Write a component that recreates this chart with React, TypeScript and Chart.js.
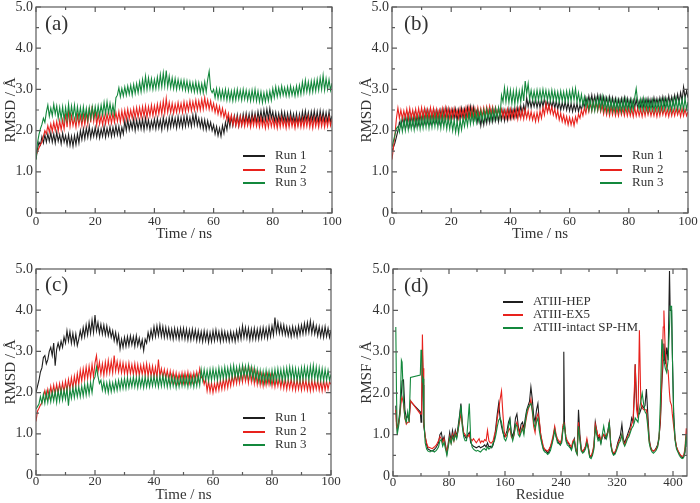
import { useEffect, useRef } from "react";
import { Chart, registerables } from "chart.js";

Chart.register(...registerables);

// ---------- data ----------
const TIME_NS = [
  0, 0.5, 1, 1.5, 2, 2.5, 3, 3.5, 4, 4.5, 5, 5.5, 6, 6.5, 7, 7.5, 8, 8.5, 9, 9.5,
  10, 10.5, 11, 11.5, 12, 12.5, 13, 13.5, 14, 14.5, 15, 15.5, 16, 16.5, 17, 17.5, 18, 18.5, 19, 19.5,
  20, 20.5, 21, 21.5, 22, 22.5, 23, 23.5, 24, 24.5, 25, 25.5, 26, 26.5, 27, 27.5, 28, 28.5, 29, 29.5,
  30, 30.5, 31, 31.5, 32, 32.5, 33, 33.5, 34, 34.5, 35, 35.5, 36, 36.5, 37, 37.5, 38, 38.5, 39, 39.5,
  40, 40.5, 41, 41.5, 42, 42.5, 43, 43.5, 44, 44.5, 45, 45.5, 46, 46.5, 47, 47.5, 48, 48.5, 49, 49.5,
  50, 50.5, 51, 51.5, 52, 52.5, 53, 53.5, 54, 54.5, 55, 55.5, 56, 56.5, 57, 57.5, 58, 58.5, 59, 59.5,
  60, 60.5, 61, 61.5, 62, 62.5, 63, 63.5, 64, 64.5, 65, 65.5, 66, 66.5, 67, 67.5, 68, 68.5, 69, 69.5,
  70, 70.5, 71, 71.5, 72, 72.5, 73, 73.5, 74, 74.5, 75, 75.5, 76, 76.5, 77, 77.5, 78, 78.5, 79, 79.5,
  80, 80.5, 81, 81.5, 82, 82.5, 83, 83.5, 84, 84.5, 85, 85.5, 86, 86.5, 87, 87.5, 88, 88.5, 89, 89.5,
  90, 90.5, 91, 91.5, 92, 92.5, 93, 93.5, 94, 94.5, 95, 95.5, 96, 96.5, 97, 97.5, 98, 98.5, 99, 99.5,
  100,
];

const RUN_LABELS = ["Run 1", "Run 2", "Run 3"];

// Panel (a)
const A_RUN1 = [
  1.30, 1.55, 1.72, 1.65, 1.85, 1.70, 1.90, 1.72, 1.92, 1.74,
  1.95, 1.72, 1.92, 1.70, 1.96, 1.74, 1.90, 1.68, 1.94, 1.72,
  1.88, 1.66, 1.90, 1.64, 1.86, 1.62, 1.88, 1.66, 1.92, 1.70,
  2.00, 1.78, 2.04, 1.80, 2.06, 1.84, 2.10, 1.82, 2.04, 1.86,
  2.08, 1.84, 2.06, 1.82, 2.04, 1.86, 2.10, 1.84, 2.06, 1.88,
  2.10, 1.86, 2.08, 1.88, 2.12, 1.90, 2.10, 1.86, 2.08, 1.92,
  2.24, 2.00, 2.26, 2.02, 2.22, 2.04, 2.28, 2.00, 2.26, 2.04,
  2.26, 2.04, 2.28, 2.02, 2.30, 2.06, 2.26, 2.02, 2.24, 2.06,
  2.28, 2.04, 2.30, 2.06, 2.26, 2.02, 2.32, 2.08, 2.28, 2.04,
  2.32, 2.08, 2.34, 2.10, 2.30, 2.06, 2.34, 2.10, 2.32, 2.08,
  2.34, 2.10, 2.36, 2.12, 2.32, 2.10, 2.38, 2.14, 2.40, 2.12,
  2.30, 2.08, 2.28, 2.04, 2.26, 2.02, 2.24, 2.04, 2.20, 2.00,
  2.14, 1.92, 2.10, 1.88, 2.06, 1.86, 2.12, 1.94, 2.20, 2.02,
  2.32, 2.10, 2.34, 2.12, 2.36, 2.14, 2.38, 2.12, 2.36, 2.14,
  2.40, 2.16, 2.42, 2.18, 2.40, 2.16, 2.44, 2.20, 2.42, 2.18,
  2.46, 2.24, 2.48, 2.22, 2.50, 2.26, 2.52, 2.28, 2.54, 2.30,
  2.46, 2.22, 2.44, 2.20, 2.42, 2.20, 2.46, 2.22, 2.44, 2.18,
  2.42, 2.18, 2.44, 2.20, 2.40, 2.18, 2.42, 2.16, 2.40, 2.18,
  2.46, 2.22, 2.48, 2.24, 2.44, 2.20, 2.46, 2.24, 2.48, 2.22,
  2.46, 2.20, 2.48, 2.24, 2.46, 2.22, 2.44, 2.20, 2.46, 2.22,
  2.36,
];
const A_RUN2 = [
  1.40, 1.50, 1.58, 1.66, 1.72, 1.86, 2.00, 1.92, 2.12, 1.96,
  2.16, 1.98, 2.20, 2.00, 2.22, 1.98, 2.24, 2.02, 2.26, 2.04,
  2.42, 2.08, 2.50, 2.10, 2.36, 2.12, 2.30, 2.08, 2.38, 2.14,
  2.36, 2.12, 2.40, 2.14, 2.44, 2.16, 2.56, 2.20, 2.60, 2.22,
  2.48, 2.14, 2.40, 2.16, 2.36, 2.14, 2.38, 2.16, 2.40, 2.18,
  2.40, 2.18, 2.42, 2.20, 2.44, 2.22, 2.46, 2.20, 2.48, 2.24,
  2.50, 2.26, 2.52, 2.28, 2.50, 2.30, 2.54, 2.30, 2.56, 2.32,
  2.56, 2.32, 2.58, 2.34, 2.60, 2.32, 2.58, 2.36, 2.62, 2.36,
  2.60, 2.38, 2.64, 2.40, 2.66, 2.40, 2.72, 2.42, 2.78, 2.44,
  2.68, 2.44, 2.66, 2.42, 2.64, 2.44, 2.68, 2.46, 2.66, 2.44,
  2.70, 2.46, 2.68, 2.48, 2.72, 2.48, 2.70, 2.50, 2.74, 2.50,
  2.72, 2.50, 2.76, 2.52, 2.80, 2.54, 2.74, 2.52, 2.72, 2.50,
  2.66, 2.44, 2.62, 2.40, 2.58, 2.36, 2.54, 2.32, 2.48, 2.26,
  2.42, 2.20, 2.38, 2.14, 2.34, 2.12, 2.32, 2.10, 2.34, 2.12,
  2.32, 2.10, 2.34, 2.12, 2.30, 2.08, 2.32, 2.12, 2.34, 2.10,
  2.30, 2.08, 2.32, 2.10, 2.28, 2.06, 2.30, 2.08, 2.32, 2.10,
  2.30, 2.08, 2.28, 2.06, 2.30, 2.08, 2.32, 2.10, 2.28, 2.06,
  2.30, 2.08, 2.32, 2.10, 2.28, 2.06, 2.30, 2.10, 2.32, 2.08,
  2.30, 2.08, 2.32, 2.10, 2.34, 2.08, 2.30, 2.06, 2.32, 2.10,
  2.30, 2.08, 2.34, 2.10, 2.32, 2.08, 2.30, 2.10, 2.34, 2.12,
  2.28,
];
const A_RUN3 = [
  1.30, 1.70, 1.90, 2.05, 2.15, 2.30, 2.20, 2.45, 2.62, 2.35,
  2.55, 2.36, 2.64, 2.40, 2.60, 2.30, 2.56, 2.28, 2.58, 2.26,
  2.56, 2.28, 2.64, 2.30, 2.60, 2.32, 2.62, 2.28, 2.58, 2.30,
  2.56, 2.28, 2.58, 2.30, 2.54, 2.26, 2.56, 2.30, 2.58, 2.32,
  2.58, 2.34, 2.60, 2.36, 2.62, 2.38, 2.68, 2.40, 2.70, 2.42,
  2.66, 2.40, 2.62, 2.38, 2.80, 2.86, 3.04, 2.82, 3.02, 2.84,
  3.06, 2.86, 3.08, 2.88, 3.10, 2.86, 3.12, 2.90, 3.14, 2.92,
  3.18, 2.94, 3.24, 2.98, 3.32, 3.00, 3.28, 3.02, 3.26, 3.00,
  3.24, 3.02, 3.30, 3.04, 3.36, 3.06, 3.40, 3.08, 3.46, 3.06,
  3.32, 3.04, 3.28, 3.02, 3.26, 3.00, 3.24, 3.02, 3.22, 3.00,
  3.22, 2.98, 3.20, 2.96, 3.18, 2.96, 3.16, 2.94, 3.18, 2.94,
  3.16, 2.92, 3.14, 2.92, 3.18, 2.94, 3.24, 3.44, 3.00, 2.92,
  3.00, 2.80, 3.02, 2.78, 3.00, 2.76, 2.98, 2.76, 3.00, 2.74,
  2.98, 2.74, 2.96, 2.72, 2.98, 2.74, 3.00, 2.76, 2.98, 2.74,
  3.00, 2.76, 2.98, 2.74, 2.96, 2.72, 2.98, 2.74, 3.00, 2.72,
  2.96, 2.70, 2.94, 2.68, 2.92, 2.70, 2.94, 2.72, 2.96, 2.74,
  3.02, 2.80, 3.06, 2.82, 3.04, 2.84, 3.08, 2.86, 3.04, 2.84,
  3.06, 2.84, 3.08, 2.86, 3.04, 2.84, 3.08, 2.86, 3.10, 2.88,
  3.18, 2.92, 3.22, 2.94, 3.18, 2.92, 3.20, 2.94, 3.22, 2.96,
  3.24, 2.98, 3.28, 3.00, 3.34, 2.98, 3.26, 3.00, 3.24, 2.98,
  3.15,
];

// Panel (b)
const B_RUN1 = [
  1.50, 1.60, 1.70, 1.85, 2.00, 2.20, 2.10, 2.32, 2.12, 2.36,
  2.14, 2.38, 2.12, 2.36, 2.16, 2.40, 2.14, 2.38, 2.16, 2.40,
  2.18, 2.44, 2.20, 2.48, 2.22, 2.46, 2.20, 2.44, 2.22, 2.46,
  2.22, 2.46, 2.20, 2.48, 2.24, 2.50, 2.26, 2.52, 2.24, 2.50,
  2.26, 2.50, 2.28, 2.52, 2.24, 2.50, 2.28, 2.54, 2.30, 2.52,
  2.30, 2.56, 2.32, 2.58, 2.30, 2.56, 2.28, 2.46, 2.20, 2.40,
  2.12, 2.36, 2.14, 2.40, 2.18, 2.44, 2.20, 2.46, 2.22, 2.48,
  2.24, 2.46, 2.22, 2.48, 2.26, 2.50, 2.24, 2.48, 2.26, 2.52,
  2.30, 2.52, 2.32, 2.54, 2.34, 2.56, 2.38, 2.60, 2.40, 2.62,
  2.44, 2.80, 2.58, 2.76, 2.56, 2.74, 2.58, 2.76, 2.56, 2.74,
  2.56, 2.76, 2.58, 2.78, 2.56, 2.74, 2.54, 2.72, 2.56, 2.74,
  2.54, 2.72, 2.52, 2.70, 2.50, 2.68, 2.52, 2.70, 2.50, 2.68,
  2.48, 2.66, 2.46, 2.64, 2.48, 2.66, 2.46, 2.62, 2.50, 2.70,
  2.56, 2.80, 2.62, 2.84, 2.64, 2.86, 2.62, 2.84, 2.64, 2.86,
  2.62, 2.84, 2.60, 2.82, 2.62, 2.80, 2.60, 2.82, 2.58, 2.80,
  2.58, 2.78, 2.56, 2.76, 2.58, 2.78, 2.56, 2.80, 2.58, 2.78,
  2.56, 2.76, 2.54, 2.74, 2.56, 2.76, 2.54, 2.72, 2.56, 2.76,
  2.56, 2.76, 2.58, 2.78, 2.56, 2.76, 2.58, 2.80, 2.60, 2.78,
  2.60, 2.80, 2.62, 2.82, 2.60, 2.80, 2.62, 2.84, 2.62, 2.82,
  2.64, 2.86, 2.66, 2.88, 2.68, 2.92, 2.72, 3.06, 2.80, 2.96,
  2.80,
];
const B_RUN2 = [
  1.30, 1.60, 1.90, 2.30, 2.55, 2.30, 2.50, 2.28, 2.48, 2.30,
  2.52, 2.28, 2.54, 2.30, 2.50, 2.28, 2.52, 2.30, 2.54, 2.32,
  2.56, 2.30, 2.54, 2.32, 2.52, 2.30, 2.56, 2.32, 2.54, 2.30,
  2.52, 2.30, 2.50, 2.32, 2.54, 2.30, 2.56, 2.32, 2.54, 2.30,
  2.52, 2.32, 2.54, 2.34, 2.50, 2.30, 2.54, 2.34, 2.52, 2.32,
  2.56, 2.34, 2.58, 2.36, 2.56, 2.34, 2.54, 2.32, 2.56, 2.34,
  2.54, 2.34, 2.56, 2.36, 2.58, 2.38, 2.60, 2.40, 2.58, 2.38,
  2.56, 2.36, 2.54, 2.34, 2.52, 2.32, 2.50, 2.30, 2.52, 2.30,
  2.52, 2.30, 2.50, 2.30, 2.52, 2.28, 2.54, 2.30, 2.50, 2.28,
  2.52, 2.30, 2.48, 2.28, 2.46, 2.26, 2.42, 2.22, 2.44, 2.24,
  2.48, 2.30, 2.56, 2.38, 2.66, 2.44, 2.62, 2.42, 2.58, 2.38,
  2.52, 2.32, 2.48, 2.26, 2.42, 2.22, 2.38, 2.18, 2.34, 2.14,
  2.32, 2.14, 2.30, 2.12, 2.34, 2.20, 2.40, 2.30, 2.50, 2.36,
  2.56, 2.42, 2.64, 2.46, 2.68, 2.48, 2.70, 2.50, 2.68, 2.48,
  2.66, 2.46, 2.62, 2.40, 2.58, 2.38, 2.56, 2.36, 2.58, 2.38,
  2.56, 2.36, 2.54, 2.36, 2.56, 2.38, 2.54, 2.36, 2.56, 2.36,
  2.54, 2.36, 2.52, 2.34, 2.56, 2.36, 2.54, 2.36, 2.52, 2.34,
  2.54, 2.36, 2.56, 2.38, 2.54, 2.36, 2.52, 2.36, 2.54, 2.34,
  2.54, 2.36, 2.56, 2.38, 2.54, 2.36, 2.52, 2.34, 2.54, 2.36,
  2.52, 2.36, 2.54, 2.38, 2.52, 2.34, 2.54, 2.36, 2.52, 2.36,
  2.46,
];
const B_RUN3 = [
  1.60, 1.75, 1.90, 2.05, 2.10, 1.96, 2.22, 1.98, 2.26, 2.00,
  2.28, 2.02, 2.30, 2.04, 2.28, 2.02, 2.30, 2.06, 2.32, 2.04,
  2.32, 2.06, 2.34, 2.08, 2.36, 2.06, 2.34, 2.08, 2.36, 2.10,
  2.38, 2.08, 2.36, 2.06, 2.38, 2.08, 2.34, 2.04, 2.32, 2.04,
  2.30, 2.00, 2.26, 1.96, 2.22, 1.94, 2.26, 2.02, 2.30, 2.10,
  2.36, 2.12, 2.42, 2.16, 2.44, 2.18, 2.46, 2.20, 2.48, 2.22,
  2.48, 2.24, 2.50, 2.26, 2.52, 2.28, 2.50, 2.26, 2.52, 2.28,
  2.54, 2.30, 2.56, 2.32, 2.86, 2.70, 3.04, 2.70, 3.00, 2.68,
  2.98, 2.66, 2.96, 2.64, 2.98, 2.68, 2.96, 2.70, 3.02, 2.72,
  3.20, 2.90, 3.14, 2.76, 2.98, 2.74, 2.96, 2.72, 2.98, 2.74,
  2.98, 2.74, 3.00, 2.76, 2.98, 2.74, 2.96, 2.72, 2.98, 2.74,
  2.96, 2.72, 2.94, 2.70, 2.96, 2.72, 2.94, 2.70, 2.96, 2.72,
  2.96, 2.72, 3.00, 2.74, 3.02, 2.70, 2.92, 2.66, 2.88, 2.62,
  2.82, 2.56, 2.76, 2.50, 2.74, 2.48, 2.72, 2.48, 2.76, 2.50,
  2.80, 2.52, 2.82, 2.50, 2.78, 2.48, 2.76, 2.46, 2.74, 2.48,
  2.72, 2.46, 2.74, 2.48, 2.72, 2.46, 2.74, 2.48, 2.76, 2.50,
  2.72, 2.48, 2.74, 2.50, 2.80, 3.02, 2.70, 2.52, 2.76, 2.50,
  2.78, 2.50, 2.74, 2.48, 2.72, 2.50, 2.74, 2.48, 2.72, 2.50,
  2.72, 2.48, 2.74, 2.50, 2.76, 2.52, 2.74, 2.50, 2.72, 2.48,
  2.76, 2.52, 2.78, 2.50, 2.74, 2.52, 2.76, 2.50, 2.78, 2.52,
  2.70,
];

// Panel (c)
const C_RUN1 = [
  2.00, 2.15, 2.30, 2.50, 2.60, 2.85, 2.90, 2.70, 2.80, 3.00,
  3.10, 2.90, 3.20, 2.65, 3.05, 3.20, 3.05, 3.25, 3.10, 3.35,
  3.20, 3.50, 3.25, 3.48, 3.20, 3.44, 3.18, 3.42, 3.14, 3.30,
  3.50, 3.32, 3.58, 3.36, 3.64, 3.40, 3.70, 3.44, 3.76, 3.46,
  3.88, 3.50, 3.70, 3.44, 3.66, 3.42, 3.64, 3.40, 3.62, 3.38,
  3.56, 3.34, 3.50, 3.26, 3.46, 3.20, 3.40, 3.06, 3.30, 3.10,
  3.34, 3.12, 3.36, 3.14, 3.38, 3.16, 3.36, 3.12, 3.38, 3.14,
  3.32, 3.10, 3.28, 3.02, 3.30, 3.20, 3.46, 3.28, 3.52, 3.32,
  3.60, 3.36, 3.62, 3.38, 3.64, 3.36, 3.60, 3.34, 3.58, 3.34,
  3.56, 3.32, 3.54, 3.30, 3.56, 3.32, 3.54, 3.30, 3.56, 3.32,
  3.56, 3.30, 3.54, 3.28, 3.52, 3.28, 3.54, 3.30, 3.52, 3.26,
  3.50, 3.26, 3.48, 3.24, 3.50, 3.26, 3.48, 3.22, 3.46, 3.24,
  3.50, 3.26, 3.52, 3.28, 3.48, 3.24, 3.50, 3.26, 3.48, 3.26,
  3.46, 3.24, 3.48, 3.26, 3.46, 3.24, 3.50, 3.28, 3.54, 3.30,
  3.62, 3.34, 3.58, 3.32, 3.56, 3.28, 3.54, 3.30, 3.56, 3.30,
  3.54, 3.30, 3.56, 3.32, 3.58, 3.34, 3.56, 3.32, 3.60, 3.36,
  3.62, 3.40, 3.82, 3.46, 3.70, 3.44, 3.66, 3.42, 3.64, 3.40,
  3.60, 3.38, 3.58, 3.36, 3.60, 3.38, 3.58, 3.36, 3.62, 3.40,
  3.64, 3.42, 3.68, 3.44, 3.70, 3.46, 3.74, 3.44, 3.68, 3.42,
  3.62, 3.38, 3.60, 3.36, 3.58, 3.34, 3.60, 3.36, 3.56, 3.34,
  3.52,
];
const C_RUN2 = [
  1.30, 1.55, 1.62, 1.70, 1.75, 1.90, 2.05, 1.88, 2.08, 1.90,
  2.15, 1.94, 2.18, 1.96, 2.20, 1.98, 2.22, 2.00, 2.24, 2.02,
  2.28, 2.04, 2.32, 2.08, 2.36, 2.10, 2.40, 2.16, 2.46, 2.20,
  2.54, 2.28, 2.58, 2.32, 2.62, 2.34, 2.64, 2.36, 2.68, 2.38,
  2.72, 2.90, 2.50, 2.74, 2.44, 2.70, 2.42, 2.74, 2.46, 2.78,
  2.48, 2.76, 2.48, 2.90, 2.52, 2.76, 2.50, 2.74, 2.48, 2.72,
  2.46, 2.70, 2.44, 2.72, 2.46, 2.68, 2.44, 2.70, 2.42, 2.68,
  2.42, 2.66, 2.44, 2.68, 2.42, 2.70, 2.40, 2.66, 2.40, 2.64,
  2.38, 2.62, 2.36, 2.80, 2.40, 2.58, 2.36, 2.56, 2.34, 2.54,
  2.30, 2.52, 2.28, 2.50, 2.26, 2.48, 2.24, 2.46, 2.26, 2.48,
  2.24, 2.48, 2.26, 2.50, 2.24, 2.46, 2.26, 2.48, 2.28, 2.50,
  2.30, 2.58, 2.36, 2.40, 2.20, 2.34, 2.04, 2.28, 2.02, 2.24,
  2.00, 2.22, 2.04, 2.28, 2.06, 2.30, 2.08, 2.34, 2.10, 2.36,
  2.12, 2.38, 2.16, 2.42, 2.20, 2.46, 2.22, 2.50, 2.24, 2.52,
  2.26, 2.56, 2.28, 2.52, 2.24, 2.56, 2.26, 2.54, 2.22, 2.50,
  2.20, 2.46, 2.18, 2.44, 2.16, 2.42, 2.18, 2.44, 2.20, 2.42,
  2.16, 2.40, 2.14, 2.38, 2.16, 2.38, 2.12, 2.36, 2.10, 2.34,
  2.08, 2.32, 2.10, 2.34, 2.08, 2.30, 2.06, 2.32, 2.08, 2.30,
  2.06, 2.32, 2.08, 2.30, 2.06, 2.28, 2.04, 2.30, 2.06, 2.28,
  2.08, 2.30, 2.06, 2.28, 2.04, 2.30, 2.06, 2.28, 2.08, 2.26,
  2.20,
];
const C_RUN3 = [
  1.60, 1.66, 1.72, 1.90, 1.74, 1.96, 1.74, 2.00, 1.76, 2.02,
  1.78, 2.02, 1.80, 2.04, 1.76, 2.06, 1.80, 2.08, 1.82, 2.06,
  1.84, 2.10, 1.68, 2.08, 1.86, 2.12, 1.88, 2.14, 1.90, 2.14,
  1.90, 2.16, 1.92, 2.20, 1.94, 2.22, 1.96, 2.24, 2.00, 2.30,
  2.38, 2.62, 2.40, 2.22, 2.30, 2.06, 2.26, 2.02, 2.24, 2.00,
  2.26, 2.02, 2.24, 2.04, 2.28, 2.06, 2.30, 2.08, 2.32, 2.10,
  2.34, 2.10, 2.36, 2.12, 2.34, 2.14, 2.38, 2.14, 2.36, 2.12,
  2.38, 2.14, 2.36, 2.12, 2.38, 2.14, 2.36, 2.14, 2.38, 2.16,
  2.40, 2.16, 2.38, 2.14, 2.40, 2.16, 2.42, 2.16, 2.40, 2.14,
  2.38, 2.14, 2.40, 2.16, 2.38, 2.12, 2.36, 2.14, 2.38, 2.16,
  2.40, 2.16, 2.38, 2.14, 2.40, 2.16, 2.38, 2.14, 2.40, 2.16,
  2.42, 2.18, 2.56, 2.30, 2.56, 2.30, 2.54, 2.28, 2.56, 2.30,
  2.58, 2.32, 2.56, 2.30, 2.60, 2.32, 2.58, 2.34, 2.62, 2.34,
  2.60, 2.36, 2.64, 2.36, 2.66, 2.38, 2.62, 2.36, 2.64, 2.36,
  2.66, 2.40, 2.64, 2.38, 2.66, 2.38, 2.62, 2.34, 2.60, 2.32,
  2.56, 2.28, 2.54, 2.26, 2.52, 2.24, 2.54, 2.26, 2.52, 2.24,
  2.54, 2.26, 2.56, 2.28, 2.58, 2.30, 2.56, 2.28, 2.58, 2.30,
  2.60, 2.32, 2.62, 2.34, 2.60, 2.30, 2.58, 2.30, 2.56, 2.28,
  2.60, 2.32, 2.62, 2.34, 2.60, 2.30, 2.64, 2.34, 2.66, 2.32,
  2.62, 2.30, 2.60, 2.30, 2.58, 2.28, 2.56, 2.30, 2.54, 2.30,
  2.44,
];

// Panel (d)
const D_LABELS = ["ATIII-HEP", "ATIII-EX5", "ATIII-intact SP-HM"];
const RESIDUE_TICKS = [0, 80, 160, 240, 320, 400];
const RESIDUE = [
  4, 5, 6, 8, 10, 12, 13, 15, 17, 19, 21, 23, 25, 39, 40, 41, 42, 43, 44, 46,
  48, 50, 53, 56, 59, 62, 65, 67, 69, 71, 73, 75, 77, 79, 81, 83, 85, 87, 89, 91,
  93, 95, 97, 99, 101, 103, 105, 107, 109, 111, 113, 115, 117, 119, 121, 123, 125, 127, 129, 131,
  133, 135, 137, 139, 141, 143, 145, 147, 149, 151, 153, 155, 157, 159, 161, 163, 165, 167, 169, 171,
  173, 175, 177, 179, 181, 183, 185, 187, 189, 191, 193, 195, 197, 199, 201, 203, 205, 207, 209, 211,
  213, 215, 217, 219, 221, 223, 225, 227, 229, 231, 233, 235, 237, 239, 241, 243, 244, 245, 247, 249,
  251, 253, 255, 257, 259, 261, 263, 265, 267, 269, 271, 273, 275, 277, 279, 281, 283, 285, 287, 289,
  291, 293, 295, 297, 299, 301, 303, 305, 307, 309, 311, 313, 315, 317, 319, 321, 323, 325, 327, 329,
  331, 333, 335, 337, 339, 341, 343, 345, 346, 348, 350, 352, 354, 356, 358, 360, 362, 364, 366, 368,
  370, 372, 374, 376, 378, 380, 382, 384, 386, 387, 389, 391, 393, 395, 396, 398, 399, 401, 403, 405,
  407, 409, 411, 413, 415, 417, 419, 420,
];
const RMSF_HEP = [
  1.70, 1.30, 1.10, 1.30, 1.60, 2.00, 2.30, 2.32, 1.60, 1.40, 1.45, 1.35, 1.80, 1.55, 1.30, 1.55, 3.00, 2.20, 1.20, 0.95,
  0.75, 0.65, 0.62, 0.60, 0.64, 0.70, 0.80, 1.00, 1.05, 0.85, 0.95, 0.75, 0.55, 0.80, 1.05, 0.85, 1.10, 0.90, 1.10, 0.95,
  1.20, 1.45, 1.75, 1.30, 1.00, 0.95, 0.90, 1.00, 1.05, 0.80, 0.75, 0.72, 0.70, 0.68, 0.70, 0.72, 0.68, 0.70, 0.72, 0.75,
  0.70, 0.80, 0.70, 0.72, 0.68, 0.75, 0.90, 1.20, 1.50, 1.75, 1.40, 1.20, 1.05, 0.95, 1.00, 1.10, 1.30, 1.40, 1.05, 0.95,
  1.10, 1.40, 1.50, 1.20, 1.05, 1.25, 1.30, 1.15, 1.40, 1.60, 1.70, 1.80, 2.15, 1.85, 1.45, 1.30, 1.60, 1.75, 1.30, 1.00,
  0.80, 0.65, 0.62, 0.60, 0.55, 0.60, 0.70, 0.80, 0.95, 1.15, 0.95, 0.85, 0.80, 0.75, 0.85, 1.20, 3.00, 1.30, 0.90, 0.80,
  0.78, 0.70, 0.65, 0.80, 0.90, 0.65, 0.55, 1.60, 1.00, 0.65, 0.58, 0.62, 0.70, 0.85, 0.70, 0.48, 0.45, 0.55, 0.70, 1.30,
  1.10, 0.90, 0.95, 0.80, 0.95, 1.00, 0.90, 0.95, 1.10, 1.30, 0.80, 0.60, 0.52, 0.55, 0.65, 0.80, 0.90, 1.00, 1.25, 0.90,
  0.80, 0.90, 1.00, 1.10, 1.20, 1.40, 1.30, 2.00, 2.70, 1.80, 1.50, 1.50, 1.60, 1.70, 1.65, 1.70, 2.10, 1.50, 0.90, 0.70,
  0.62, 0.60, 0.62, 0.68, 0.75, 0.95, 1.30, 2.20, 2.80, 3.20, 2.70, 3.10, 2.80, 4.95, 4.00, 4.00, 3.00, 1.50, 0.90, 0.70,
  0.60, 0.55, 0.48, 0.45, 0.45, 0.55, 0.90, 0.85,
];
const RMSF_EX5 = [
  1.60, 1.20, 1.15, 1.25, 1.50, 1.85, 1.90, 1.75, 1.40, 1.25, 1.30, 1.30, 1.82, 1.50, 1.50, 1.80, 3.42, 2.60, 1.30, 0.95,
  0.80, 0.70, 0.68, 0.66, 0.70, 0.75, 0.85, 0.95, 0.90, 0.80, 0.90, 0.70, 0.60, 0.75, 0.95, 0.80, 1.00, 0.85, 1.05, 0.95,
  1.10, 1.30, 1.50, 1.25, 1.05, 1.00, 0.95, 0.95, 1.00, 0.90, 0.85, 0.90, 0.85, 0.80, 0.85, 0.90, 0.80, 0.85, 0.82, 0.88,
  0.85, 1.10, 0.85, 0.80, 0.80, 0.85, 1.00, 1.10, 1.40, 1.60, 1.85, 2.05, 1.50, 1.05, 0.95, 1.00, 1.10, 1.15, 0.95, 0.90,
  1.00, 1.20, 1.30, 1.15, 1.00, 1.10, 1.20, 1.05, 1.25, 1.45, 1.60, 1.70, 1.85, 1.55, 1.20, 1.05, 1.40, 1.50, 1.35, 1.00,
  0.85, 0.70, 0.65, 0.62, 0.60, 0.65, 0.72, 0.85, 1.00, 1.20, 1.00, 0.90, 0.85, 0.80, 0.90, 1.25, 1.30, 1.20, 0.95, 0.85,
  0.80, 0.75, 0.70, 0.85, 0.88, 0.65, 0.55, 1.30, 0.90, 0.62, 0.60, 0.65, 0.72, 0.90, 0.70, 0.50, 0.48, 0.58, 0.75, 1.25,
  1.10, 0.95, 1.00, 0.85, 0.95, 1.00, 0.95, 1.00, 1.05, 1.25, 0.80, 0.62, 0.55, 0.58, 0.65, 0.75, 0.85, 0.90, 1.00, 0.85,
  0.75, 0.85, 0.95, 1.00, 1.10, 1.25, 1.35, 2.20, 2.70, 1.60, 1.40, 3.52, 1.80, 1.65, 1.60, 1.60, 1.60, 1.30, 0.85, 0.68,
  0.62, 0.60, 0.62, 0.66, 0.72, 0.90, 1.40, 2.30, 3.60, 4.00, 3.00, 2.60, 2.55, 2.00, 1.80, 1.70, 1.50, 1.20, 0.90, 0.70,
  0.62, 0.55, 0.50, 0.48, 0.48, 0.65, 1.15, 1.00,
];
const RMSF_SPHM = [
  3.60, 2.00, 1.00, 1.20, 1.50, 2.80, 2.75, 1.80, 1.40, 1.30, 1.55, 1.30, 2.38, 2.44, 3.05, 2.90, 2.30, 2.35, 1.40, 0.80,
  0.65, 0.60, 0.58, 0.62, 0.58, 0.62, 0.70, 0.85, 0.88, 0.72, 0.82, 0.65, 0.50, 0.70, 0.92, 0.78, 0.95, 0.85, 1.00, 0.90,
  1.10, 1.40, 1.70, 1.20, 0.95, 0.85, 0.85, 1.30, 1.75, 0.90, 0.70, 0.65, 0.62, 0.60, 0.62, 0.60, 0.58, 0.62, 0.65, 0.66,
  0.62, 0.70, 0.65, 0.68, 0.70, 0.80, 0.85, 1.00, 1.20, 1.35, 1.40, 1.30, 1.10, 0.90, 0.85, 0.95, 1.20, 1.35, 1.00, 0.85,
  1.00, 1.25, 1.20, 1.00, 0.95, 1.05, 1.15, 1.00, 1.30, 1.55, 1.65, 1.70, 1.75, 1.60, 1.30, 1.15, 1.30, 1.40, 1.10, 0.90,
  0.75, 0.62, 0.58, 0.56, 0.52, 0.55, 0.62, 0.75, 0.90, 1.10, 0.95, 0.80, 0.78, 0.75, 0.80, 1.15, 1.25, 1.20, 0.85, 0.75,
  0.72, 0.68, 0.62, 0.78, 0.85, 0.60, 0.52, 1.20, 0.85, 0.60, 0.55, 0.58, 0.65, 0.80, 0.65, 0.45, 0.42, 0.50, 0.65, 1.15,
  1.00, 0.85, 0.90, 0.78, 1.00, 1.20, 1.00, 0.90, 1.05, 1.30, 0.75, 0.58, 0.50, 0.52, 0.60, 0.70, 0.80, 0.85, 1.00, 0.80,
  0.72, 0.80, 0.90, 0.95, 1.05, 1.15, 1.20, 1.30, 1.40, 1.35, 1.30, 1.60, 1.80, 2.00, 1.75, 1.55, 1.50, 1.20, 0.80, 0.65,
  0.58, 0.55, 0.58, 0.62, 0.70, 0.90, 1.80, 3.30, 3.00, 2.80, 2.60, 2.50, 2.80, 3.60, 4.10, 4.10, 3.00, 1.40, 0.85, 0.65,
  0.58, 0.50, 0.45, 0.42, 0.44, 0.60, 1.00, 0.70,
];
const TIME_TICKS = [0, 20, 40, 60, 80, 100];

// ---------- styling ----------
const COLORS = ["#1f1f1f", "#e8221d", "#13883c"];
const SERIF = "'Liberation Serif', 'Times New Roman', Times, serif";
const TEXT = "#333333";
const FRAME = "#5a5a5a";

type PanelCfg = {
  key: string;
  left: number;
  top: number;
  width: number;
  height: number;
  yWidth: number;
  xHeight: number;
  padRight: number;
  padTop: number;
  yTitlePad: number;
  xTitlePad: number;
  xTickPad: number;
  xs: number[];
  series: number[][];
  labels: string[];
  xTicks: number[];
  xMax: number;
  xStep: number;
  xMinor: number;
  xTitle: string;
  yTitle: string;
  tag: string;
  tagX: number;
  tagY: number;
  legX0: number;
  legX1: number;
  legText: number;
  legY: number[];
};

const decorPlugin = {
  id: "decor",
  afterDatasetsDraw(chart: any, _args: any, opts: any) {
    const { ctx, chartArea } = chart;
    const { left, right, top, bottom } = chartArea;
    const xs = chart.scales.x;
    const ys = chart.scales.y;
    ctx.save();
    ctx.strokeStyle = FRAME;
    ctx.lineWidth = 1.2;
    ctx.strokeRect(left, top, right - left, bottom - top);
    ctx.beginPath();
    for (let v = 0; v <= opts.xMax + 1e-9; v += opts.xMinor) {
      const px = xs.getPixelForValue(v);
      const major = Math.abs(v / opts.xStep - Math.round(v / opts.xStep)) < 1e-6;
      const len = major ? 5 : 3;
      ctx.moveTo(px, bottom);
      ctx.lineTo(px, bottom - len);
      ctx.moveTo(px, top);
      ctx.lineTo(px, top + len);
    }
    for (let v = 0; v <= 5 + 1e-9; v += 0.5) {
      const py = ys.getPixelForValue(v);
      const major = Math.abs(v - Math.round(v)) < 1e-6;
      const len = major ? 5 : 3;
      ctx.moveTo(left, py);
      ctx.lineTo(left + len, py);
      ctx.moveTo(right, py);
      ctx.lineTo(right - len, py);
    }
    ctx.stroke();

    ctx.fillStyle = TEXT;
    ctx.font = `21px ${SERIF}`;
    ctx.textBaseline = "middle";
    ctx.textAlign = "left";
    ctx.fillText(opts.tag, opts.tagX, opts.tagY);

    ctx.font = `13px ${SERIF}`;
    chart.data.datasets.forEach((ds: any, i: number) => {
      const y = opts.legY[i];
      ctx.strokeStyle = ds.borderColor;
      ctx.lineWidth = 2;
      ctx.beginPath();
      ctx.moveTo(opts.legX0, y);
      ctx.lineTo(opts.legX1, y);
      ctx.stroke();
      ctx.fillStyle = TEXT;
      ctx.fillText(ds.label, opts.legText, y);
    });
    ctx.restore();
  },
};

const PANELS: PanelCfg[] = [
  {
    key: "a", left: 0, top: 0, width: 350, height: 250,
    yWidth: 36, xHeight: 37, padRight: 18, padTop: 7, yTitlePad: 2, xTitlePad: 8, xTickPad: 1,
    xs: TIME_NS, series: [A_RUN1, A_RUN2, A_RUN3], labels: RUN_LABELS, xTicks: TIME_TICKS,
    xMax: 100, xStep: 20, xMinor: 10, xTitle: "Time / ns", yTitle: "RMSD / Å",
    tag: "(a)", tagX: 45, tagY: 24,
    legX0: 243, legX1: 265, legText: 275, legY: [156, 170, 183],
  },
  {
    key: "b", left: 350, top: 0, width: 350, height: 250,
    yWidth: 42, xHeight: 37, padRight: 12, padTop: 7, yTitlePad: 8, xTitlePad: 8, xTickPad: 1,
    xs: TIME_NS, series: [B_RUN1, B_RUN2, B_RUN3], labels: RUN_LABELS, xTicks: TIME_TICKS,
    xMax: 100, xStep: 20, xMinor: 10, xTitle: "Time / ns", yTitle: "RMSD / Å",
    tag: "(b)", tagX: 54, tagY: 24,
    legX0: 250, legX1: 272, legText: 282, legY: [156, 170, 183],
  },
  {
    key: "c", left: 0, top: 250, width: 350, height: 253,
    yWidth: 36, xHeight: 28, padRight: 19, padTop: 19, yTitlePad: 2, xTitlePad: 0, xTickPad: -1,
    xs: TIME_NS, series: [C_RUN1, C_RUN2, C_RUN3], labels: RUN_LABELS, xTicks: TIME_TICKS,
    xMax: 100, xStep: 20, xMinor: 10, xTitle: "Time / ns", yTitle: "RMSD / Å",
    tag: "(c)", tagX: 45, tagY: 35,
    legX0: 243, legX1: 265, legText: 275, legY: [168, 182, 195],
  },
  {
    key: "d", left: 350, top: 250, width: 350, height: 253,
    yWidth: 43, xHeight: 27, padRight: 13, padTop: 19, yTitlePad: 8, xTitlePad: 0, xTickPad: -1,
    xs: RESIDUE, series: [RMSF_HEP, RMSF_EX5, RMSF_SPHM], labels: D_LABELS, xTicks: RESIDUE_TICKS,
    xMax: 420, xStep: 80, xMinor: 40, xTitle: "Residue", yTitle: "RMSF / Å",
    tag: "(d)", tagX: 54, tagY: 36,
    legX0: 153, legX1: 173, legText: 183, legY: [52, 65, 78],
  },
];

function makeChart(canvas: HTMLCanvasElement, p: PanelCfg) {
  const datasets = p.series.map((vals, i) => ({
    label: p.labels[i],
    data: p.xs.map((x, j) => ({ x, y: vals[j] })),
    borderColor: COLORS[i],
    backgroundColor: COLORS[i],
    borderWidth: 1.1,
    pointRadius: 0,
    tension: 0,
    fill: false,
    order: 2 - i,
  }));
  const zeroPad = (s: any) => {
    s.paddingTop = 0;
    s.paddingBottom = 0;
    s.paddingLeft = 0;
    s.paddingRight = 0;
  };
  return new Chart(canvas, {
    type: "line",
    data: { datasets },
    plugins: [decorPlugin],
    options: {
      responsive: false,
      animation: false,
      events: [],
      layout: { padding: { left: 0, right: p.padRight, top: p.padTop, bottom: 0 } },
      plugins: {
        legend: { display: false },
        tooltip: { enabled: false },
        decor: {
          xMax: p.xMax, xStep: p.xStep, xMinor: p.xMinor,
          tag: p.tag, tagX: p.tagX, tagY: p.tagY,
          legX0: p.legX0, legX1: p.legX1, legText: p.legText, legY: p.legY,
        },
      } as any,
      scales: {
        x: {
          type: "linear",
          min: 0,
          max: p.xMax,
          grid: { display: false, drawTicks: false, tickLength: 0 },
          border: { display: false },
          ticks: {
            stepSize: p.xStep,
            includeBounds: false,
            padding: p.xTickPad,
            color: TEXT,
            font: { family: SERIF, size: 13 },
            maxRotation: 0,
            autoSkip: false,
            callback: (v: any) => String(v),
          },
          afterBuildTicks: (s: any) => {
            s.ticks = p.xTicks.map((v) => ({ value: v }));
          },
          afterFit: (s: any) => {
            s.height = p.xHeight;
            zeroPad(s);
          },
          title: {
            display: true,
            text: p.xTitle,
            color: TEXT,
            font: { family: SERIF, size: 15, lineHeight: 1 },
            padding: { top: 0, bottom: p.xTitlePad },
          },
        },
        y: {
          type: "linear",
          min: 0,
          max: 5,
          grid: { display: false, drawTicks: false, tickLength: 0 },
          border: { display: false },
          ticks: {
            stepSize: 1,
            padding: 3,
            color: TEXT,
            font: { family: SERIF, size: 14 },
            callback: (v: any) => (v === 0 ? "0" : Number(v).toFixed(1)),
          },
          afterFit: (s: any) => {
            s.width = p.yWidth;
            zeroPad(s);
          },
          title: {
            display: true,
            text: p.yTitle,
            color: TEXT,
            font: { family: SERIF, size: 15, lineHeight: 1 },
            padding: { top: p.yTitlePad + 1.5, bottom: 0 },
          },
        },
      },
    },
  });
}

function Panel({ p }: { p: PanelCfg }) {
  const ref = useRef<HTMLCanvasElement | null>(null);
  useEffect(() => {
    if (!ref.current) return;
    const chart = makeChart(ref.current, p);
    return () => chart.destroy();
  }, [p]);
  return (
    <canvas
      ref={ref}
      width={p.width}
      height={p.height}
      style={{ position: "absolute", left: p.left, top: p.top, width: p.width, height: p.height }}
    />
  );
}

export default function App() {
  return (
    <div style={{ position: "absolute", left: 0, top: 0, width: 700, height: 503, background: "#ffffff", overflow: "hidden" }}>
      {PANELS.map((p) => (
        <Panel key={p.key} p={p} />
      ))}
    </div>
  );
}
